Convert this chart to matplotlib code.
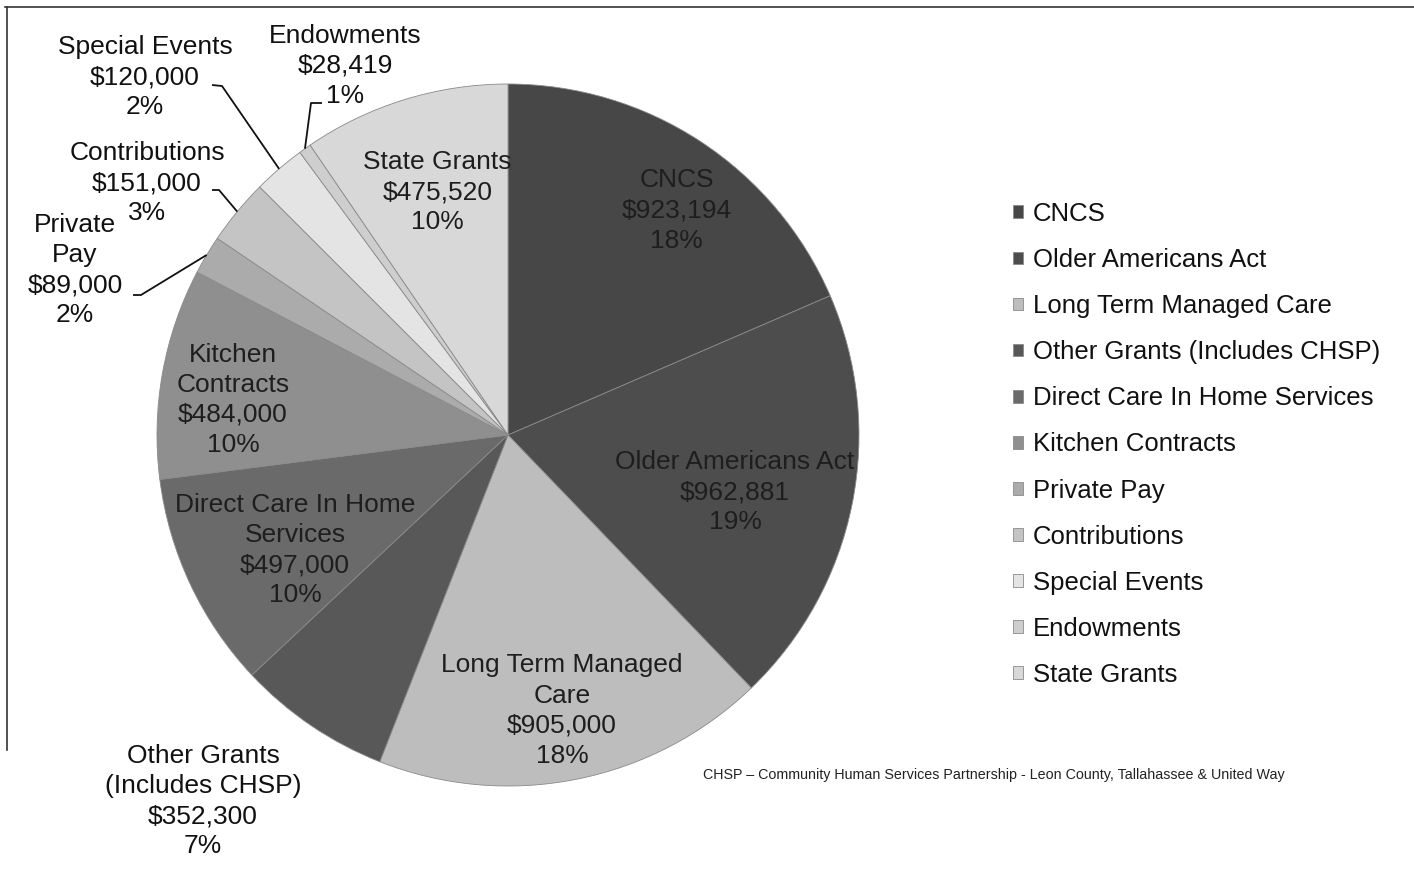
import numpy as np
import matplotlib
matplotlib.use("Agg")
import matplotlib.pyplot as plt
from matplotlib import font_manager
from matplotlib.lines import Line2D

plt.rcParams['font.family'] = ['Liberation Sans', 'DejaVu Sans']

# Funding sources and amounts
sources = ['CNCS', 'Older Americans Act', 'Long Term Managed Care',
           'Other Grants (Includes CHSP)', 'Direct Care In Home Services',
           'Kitchen Contracts', 'Private Pay', 'Contributions',
           'Special Events', 'Endowments', 'State Grants']
amounts = [923194, 962881, 905000, 352300, 497000, 484000,
           89000, 151000, 120000, 28419, 475520]
pct_labels = ['18%', '19%', '18%', '7%', '10%', '10%',
              '2%', '3%', '2%', '1%', '10%']
label_names = ['CNCS', 'Older Americans Act', 'Long Term Managed\nCare',
               'Other Grants\n(Includes CHSP)', 'Direct Care In Home\nServices',
               'Kitchen\nContracts', 'Private\nPay', 'Contributions',
               'Special Events', 'Endowments', 'State Grants']
colors = ['#474747', '#4d4d4d', '#bdbdbd', '#585858', '#6a6a6a', '#8f8f8f',
          '#ababab', '#c4c4c4', '#e4e4e4', '#cecece', '#d8d8d8']
footnote = "CHSP \u2013 Community Human Services Partnership - Leon County, Tallahassee & United Way"

W, H = 1414, 873
fig = plt.figure(figsize=(W / 100, H / 100), dpi=100)
ax = fig.add_axes([0, 0, 1, 1])

cx, cy, R = 508, H - 435, 351
wedges, _ = ax.pie(amounts, colors=colors, startangle=90, counterclock=False,
                   center=(cx, cy), radius=R, frame=True,
                   wedgeprops=dict(edgecolor='#8a8a8a', linewidth=0.6))
ax.set_xlim(0, W)
ax.set_ylim(0, H)
ax.set_aspect('equal')
ax.axis('off')

fs = 19
ls = 1.32
# inside labels: index -> (angle deg, radius fraction)
inside = {0: (53.1, 0.80), 1: (-14.1, 0.667), 2: (-78.9, 0.80),
          4: (-151.6, 0.69), 5: (172.7, 0.79), 10: (106.2, 0.72)}
for i, (ang, rf) in inside.items():
    x = cx + rf * R * np.cos(np.radians(ang))
    y = cy + rf * R * np.sin(np.radians(ang))
    ax.text(x, y, f"{label_names[i]}\n${amounts[i]:,}\n{pct_labels[i]}",
            ha='center', va='center', fontsize=fs, color='#1e1e1e',
            linespacing=ls)

# outside labels: index -> (text center in image px, leader anchor, elbow)
outside = {3: ((203, 801), None, None),
           6: ((75, 270), (133, 295), (141, 295)),
           7: ((147, 183), (212, 190), (219, 190)),
           8: ((145, 77), (212, 85), (222, 86)),
           9: ((345, 66), (322, 103), (311, 103))}
for i, (pos, anchor, elbow) in outside.items():
    ax.text(pos[0], H - pos[1], f"{label_names[i]}\n${amounts[i]:,}\n{pct_labels[i]}",
            ha='center', va='center', fontsize=fs, color='#111111',
            linespacing=ls)
    if anchor is not None:
        w = wedges[i]
        mid = np.radians((w.theta1 + w.theta2) / 2)
        ex = cx + R * np.cos(mid)
        ey = cy + R * np.sin(mid)
        ax.plot([anchor[0], elbow[0], ex], [H - anchor[1], H - elbow[1], ey],
                color='#111111', lw=1.3, solid_capstyle='butt')

leg = ax.legend(wedges, sources, loc='upper left', bbox_to_anchor=(1013, H - 202),
                bbox_transform=ax.transData, frameon=False, fontsize=18.5,
                handlelength=0.38, handleheight=0.38, handletextpad=0.38,
                labelspacing=0.86, borderpad=0, borderaxespad=0)
for t in leg.get_texts():
    t.set_color('#111111')

names = {f.name for f in font_manager.fontManager.ttflist}
foot_font = 'Liberation Sans Narrow' if 'Liberation Sans Narrow' in names else 'Liberation Sans'
ft = ax.text(703, H - 775, footnote, ha='left', va='center', fontsize=12,
             family=foot_font, color='#222222')
fig.canvas.draw()
bb = ft.get_window_extent()
ft.set_fontsize(12 * 577 / bb.width)

# scanned page border (top and left)
fig.add_artist(Line2D([5 / W, 1], [1 - 7 / H, 1 - 7 / H], color='#333333', lw=1.2))
fig.add_artist(Line2D([7 / W, 7 / W], [1 - 7 / H, 1 - 750 / H], color='#333333', lw=1.2))

fig.savefig('out.png', dpi=100)
